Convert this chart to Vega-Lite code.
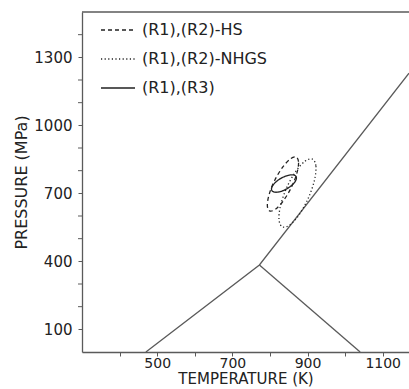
{
  "$schema": "https://vega.github.io/schema/vega-lite/v6.json",
  "width": 327,
  "height": 340,
  "autosize": {"type": "none"},
  "padding": {"left": 82, "top": 12, "right": 0, "bottom": 37},
  "config": {"view": {"stroke": null}, "font": "DejaVu Sans"},
  "datasets": {
    "boundaries": [
      {"seg": "a", "i": 0, "T": 470, "P": 0},
      {"seg": "a", "i": 1, "T": 772, "P": 384},
      {"seg": "a", "i": 2, "T": 1170, "P": 1230},
      {"seg": "b", "i": 0, "T": 772, "P": 384},
      {"seg": "b", "i": 1, "T": 1040, "P": 0}
    ],
    "ellipses": [
      {"series": "(R1),(R2)-HS", "i": 0, "T": 870.3, "P": 859.4},
      {"series": "(R1),(R2)-HS", "i": 1, "T": 876.2, "P": 834.6},
      {"series": "(R1),(R2)-HS", "i": 2, "T": 871.0, "P": 784.9},
      {"series": "(R1),(R2)-HS", "i": 3, "T": 856.1, "P": 723.3},
      {"series": "(R1),(R2)-HS", "i": 4, "T": 835.4, "P": 666.6},
      {"series": "(R1),(R2)-HS", "i": 5, "T": 814.5, "P": 629.7},
      {"series": "(R1),(R2)-HS", "i": 6, "T": 799.0, "P": 622.7},
      {"series": "(R1),(R2)-HS", "i": 7, "T": 793.1, "P": 647.4},
      {"series": "(R1),(R2)-HS", "i": 8, "T": 798.3, "P": 697.2},
      {"series": "(R1),(R2)-HS", "i": 9, "T": 813.2, "P": 758.8},
      {"series": "(R1),(R2)-HS", "i": 10, "T": 834.0, "P": 815.6},
      {"series": "(R1),(R2)-HS", "i": 11, "T": 854.9, "P": 852.4},
      {"series": "(R1),(R2)-NHGS", "i": 0, "T": 913.0, "P": 850.7},
      {"series": "(R1),(R2)-NHGS", "i": 1, "T": 922.3, "P": 820.0},
      {"series": "(R1),(R2)-NHGS", "i": 2, "T": 918.4, "P": 757.5},
      {"series": "(R1),(R2)-NHGS", "i": 3, "T": 902.4, "P": 680.0},
      {"series": "(R1),(R2)-NHGS", "i": 4, "T": 878.7, "P": 608.1},
      {"series": "(R1),(R2)-NHGS", "i": 5, "T": 853.4, "P": 561.3},
      {"series": "(R1),(R2)-NHGS", "i": 6, "T": 833.5, "P": 552.0},
      {"series": "(R1),(R2)-NHGS", "i": 7, "T": 824.2, "P": 582.7},
      {"series": "(R1),(R2)-NHGS", "i": 8, "T": 828.1, "P": 645.2},
      {"series": "(R1),(R2)-NHGS", "i": 9, "T": 844.0, "P": 722.7},
      {"series": "(R1),(R2)-NHGS", "i": 10, "T": 867.8, "P": 794.6},
      {"series": "(R1),(R2)-NHGS", "i": 11, "T": 893.1, "P": 841.4},
      {"series": "(R1),(R3)", "i": 0, "T": 869.6, "P": 774.1},
      {"series": "(R1),(R3)", "i": 1, "T": 869.2, "P": 758.5},
      {"series": "(R1),(R3)", "i": 2, "T": 860.4, "P": 738.8},
      {"series": "(R1),(R3)", "i": 3, "T": 845.3, "P": 720.3},
      {"series": "(R1),(R3)", "i": 4, "T": 828.1, "P": 708.0},
      {"series": "(R1),(R3)", "i": 5, "T": 813.4, "P": 705.1},
      {"series": "(R1),(R3)", "i": 6, "T": 805.1, "P": 712.4},
      {"series": "(R1),(R3)", "i": 7, "T": 805.4, "P": 728.0},
      {"series": "(R1),(R3)", "i": 8, "T": 814.3, "P": 747.7},
      {"series": "(R1),(R3)", "i": 9, "T": 829.3, "P": 766.2},
      {"series": "(R1),(R3)", "i": 10, "T": 846.5, "P": 778.5},
      {"series": "(R1),(R3)", "i": 11, "T": 861.3, "P": 781.5}
    ],
    "frame": [{"P": 1500}],
    "minorTicks": [
      {"T": 300, "P": 200}, {"T": 300, "P": 300}, {"T": 300, "P": 500}, {"T": 300, "P": 600},
      {"T": 300, "P": 800}, {"T": 300, "P": 900}, {"T": 300, "P": 1100}, {"T": 300, "P": 1200},
      {"T": 300, "P": 1400}
    ]
  },
  "layer": [
    {
      "data": {"name": "boundaries"},
      "mark": {"type": "line", "color": "#5a5a5a", "strokeWidth": 1.3},
      "encoding": {
        "x": {
          "field": "T", "type": "quantitative",
          "scale": {"domain": [300, 1170], "nice": false, "zero": false},
          "axis": {
            "title": "TEMPERATURE (K)",
            "values": [400, 500, 600, 700, 800, 900, 1000, 1100],
            "labelExpr": "datum.value % 200 == 100 ? datum.label : ''",
            "format": "d", "labelOverlap": false,
            "grid": false, "tickSize": 4, "labelPadding": 0, "titlePadding": 1,
            "labelFontSize": 14, "titleFontSize": 15, "titleFontWeight": "normal",
            "labelColor": "#222", "titleColor": "#222",
            "domainColor": "#5a5a5a", "tickColor": "#5a5a5a", "domainWidth": 1.3,
            "labelFlush": false
          }
        },
        "y": {
          "field": "P", "type": "quantitative",
          "scale": {"domain": [0, 1500], "nice": false},
          "axis": {
            "title": "PRESSURE (MPa)",
            "values": [100, 400, 700, 1000, 1300],
            "format": "d", "labelOverlap": false,
            "grid": false, "tickSize": 4, "labelPadding": 6, "titlePadding": 4,
            "labelFontSize": 15, "titleFontSize": 16, "titleFontWeight": "normal",
            "labelColor": "#222", "titleColor": "#222",
            "domainColor": "#5a5a5a", "tickColor": "#5a5a5a", "domainWidth": 1.3,
            "labelFlush": false
          }
        },
        "detail": {"field": "seg"},
        "order": {"field": "i"}
      }
    },
    {
      "data": {"name": "minorTicks"},
      "mark": {"type": "tick", "orient": "horizontal", "color": "#5a5a5a", "size": 4, "thickness": 1, "xOffset": -2, "opacity": 1},
      "encoding": {
        "x": {"field": "T", "type": "quantitative"},
        "y": {"field": "P", "type": "quantitative"}
      }
    },
    {
      "data": {"name": "ellipses"},
      "mark": {"type": "line", "interpolate": "cardinal-closed", "color": "#222", "strokeWidth": 1.3},
      "encoding": {
        "x": {"field": "T", "type": "quantitative"},
        "y": {"field": "P", "type": "quantitative"},
        "strokeDash": {
          "field": "series", "type": "nominal",
          "scale": {"domain": ["(R1),(R2)-HS", "(R1),(R2)-NHGS", "(R1),(R3)"], "range": [[4, 3], [1.2, 2.4], [1, 0]]},
          "legend": {
            "orient": "none", "legendX": 18, "legendY": 0, "title": null,
            "symbolType": "stroke", "symbolSize": 1156, "symbolStrokeColor": "#222", "symbolStrokeWidth": 1.3,
            "labelFontSize": 16, "labelColor": "#222", "labelOffset": 6, "rowPadding": 3, "padding": 0
          }
        },
        "order": {"field": "i"}
      }
    },
    {
      "data": {"name": "frame"},
      "mark": {"type": "rule", "color": "#5a5a5a", "strokeWidth": 1.3},
      "encoding": {"y": {"field": "P", "type": "quantitative"}}
    }
  ]
}
